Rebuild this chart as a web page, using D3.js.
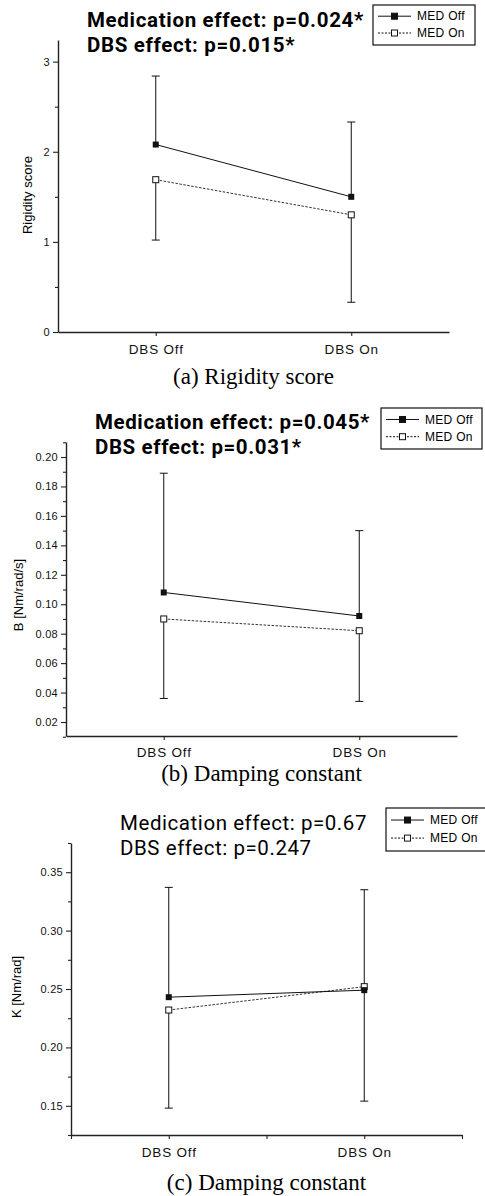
<!DOCTYPE html>
<html>
<head>
<meta charset="utf-8">
<script src="https://cdn.jsdelivr.net/npm/d3@7"></script>
<style>
  html, body { margin: 0; padding: 0; background: #fff; }
  svg { display: block; }
  .tick text { font-family: "Liberation Sans", Arial, sans-serif; fill: #111; }
  .domain, .tick line { stroke: #222; }
</style>
</head>
<body>
<div id="chart"></div>
<script>
// values: mean, and the one-sided SD bar drawn per group
var categories = ["DBS Off", "DBS On"];
var seriesNames = ["MED Off", "MED On"];

var rigidityOff = [2.08, 1.50];
var rigidityOn = [1.69, 1.30];
var rigidityOffSD = [0.76, 0.83];
var rigidityOnSD = [0.67, 0.97];
var rigidityTicks = [0, 1, 2, 3];
var rigidityMinor = [0.5, 1.5, 2.5];

var dampOff = [0.108, 0.092];
var dampOn = [0.090, 0.082];
var dampOffSD = [0.081, 0.058];
var dampOnSD = [0.054, 0.048];
var dampTicks = [0.02, 0.04, 0.06, 0.08, 0.10, 0.12, 0.14, 0.16, 0.18, 0.20];
var dampMinor = [0.01, 0.03, 0.05, 0.07, 0.09, 0.11, 0.13, 0.15, 0.17, 0.19, 0.21];

var stiffOff = [0.243, 0.249];
var stiffOn = [0.232, 0.252];
var stiffOffSD = [0.094, 0.086];
var stiffOnSD = [0.084, 0.098];
var stiffTicks = [0.15, 0.20, 0.25, 0.30, 0.35];
var stiffMinor = [0.125, 0.175, 0.225, 0.275, 0.325, 0.375];

var titles = [
  ["Medication effect: p=0.024*", "DBS effect: p=0.015*"],
  ["Medication effect: p=0.045*", "DBS effect: p=0.031*"],
  ["Medication effect: p=0.67", "DBS effect: p=0.247"]
];
var yLabels = ["Rigidity score", "B [Nm/rad/s]", "K [Nm/rad]"];
var captions = ["(a) Rigidity score", "(b) Damping constant", "(c) Damping constant"];

var svg = d3.select("#chart").append("svg")
  .attr("width", 485)
  .attr("height", 1196);

var panels = [
  { off: rigidityOff, on: rigidityOn, offSD: rigidityOffSD, onSD: rigidityOnSD,
    ticks: rigidityTicks, minor: rigidityMinor, domain: [0, 3.24], fmt: d3.format("d"),
    x0: 58, x1: 449, yTop: 40, yBot: 332,
    titleX: 87, titleY: 27, titleW: 277, bold: true,
    leg: { x: 373, y: 5, w: 102, h: 40 },
    yLabelX: 27, yLabelY: 195, xLabelY: 349, captionY: 384, xMinor: false },
  { off: dampOff, on: dampOn, offSD: dampOffSD, onSD: dampOnSD,
    ticks: dampTicks, minor: dampMinor, domain: [0.0105, 0.2102], fmt: d3.format(".2f"),
    x0: 66, x1: 457, yTop: 442, yBot: 736,
    titleX: 95, titleY: 429, titleW: 275, bold: true,
    leg: { x: 381, y: 408, w: 101, h: 41 },
    yLabelX: 18, yLabelY: 595, xLabelY: 752, captionY: 781, xMinor: false },
  { off: stiffOff, on: stiffOn, offSD: stiffOffSD, onSD: stiffOnSD,
    ticks: stiffTicks, minor: stiffMinor, domain: [0.125, 0.375], fmt: d3.format(".2f"),
    x0: 71, x1: 462, yTop: 843, yBot: 1135,
    titleX: 120, titleY: 830, titleW: 247, bold: false,
    leg: { x: 386, y: 808, w: 102, h: 43 },
    yLabelX: 16, yLabelY: 987, xLabelY: 1152, captionY: 1190, xMinor: true }
];

panels.forEach(function(p, i){ drawPanel(p, i); });

function drawPanel(p, i){
  var g = svg.append("g");
  var x = d3.scalePoint().domain(categories).range([p.x0, p.x1]).padding(0.5);
  var y = d3.scaleLinear().domain(p.domain).range([p.yBot, p.yTop]);

  // axes
  var yAxis = g.append("g").attr("transform", "translate(" + p.x0 + ",0)")
    .call(d3.axisLeft(y).tickValues(p.ticks).tickFormat(p.fmt).tickSize(5).tickSizeOuter(0).tickPadding(3));
  yAxis.selectAll("text").style("font-size", "11px").style("letter-spacing", "0.3px");
  g.append("g").attr("transform", "translate(" + p.x0 + ",0)")
    .call(d3.axisLeft(y).tickValues(p.minor).tickFormat("").tickSize(3))
    .select(".domain").remove();

  var xAxis = g.append("g").attr("transform", "translate(0," + p.yBot + ")")
    .call(d3.axisBottom(x).tickSize(4).tickSizeOuter(0).tickPadding(4));
  xAxis.selectAll("text").style("font-size", "13.5px").style("letter-spacing", "0.8px")
    .attr("y", p.xLabelY - p.yBot).attr("dy", "0.35em");
  if(p.xMinor){
    var xl = d3.scaleLinear().domain([0, 1]).range([p.x0, p.x1]);
    g.append("g").attr("transform", "translate(0," + p.yBot + ")")
      .call(d3.axisBottom(xl).tickValues([0, 0.5, 1]).tickFormat("").tickSize(4))
      .select(".domain").remove();
  }
  g.selectAll(".domain").attr("stroke-width", 1.4);
  g.selectAll(".tick line").attr("stroke-width", 1.1);

  // y label
  g.append("text")
    .attr("transform", "translate(" + p.yLabelX + "," + p.yLabelY + ") rotate(-90)")
    .attr("text-anchor", "middle")
    .attr("dy", "0.35em")
    .style("font-family", "Liberation Sans, Arial, sans-serif")
    .style("font-size", "13px")
    .text(yLabels[i]);

  // error bars: MED Off upward, MED On downward
  var cap = 4;
  var bars = [];
  categories.forEach(function(c, k){
    bars.push({ c: c, a: p.off[k], b: p.off[k] + p.offSD[k] });
    bars.push({ c: c, a: p.on[k], b: p.on[k] - p.onSD[k] });
  });
  var eb = g.append("g").attr("stroke", "#111").attr("stroke-width", 1);
  eb.selectAll(".v").data(bars).enter().append("line")
    .attr("x1", function(d){ return x(d.c); }).attr("x2", function(d){ return x(d.c); })
    .attr("y1", function(d){ return y(d.a); }).attr("y2", function(d){ return y(d.b); });
  eb.selectAll(".h").data(bars).enter().append("line")
    .attr("x1", function(d){ return x(d.c) - cap; }).attr("x2", function(d){ return x(d.c) + cap; })
    .attr("y1", function(d){ return y(d.b); }).attr("y2", function(d){ return y(d.b); });

  // lines
  var line = d3.line().x(function(d, k){ return x(categories[k]); }).y(function(d){ return y(d); });
  g.append("path").datum(p.on).attr("d", line)
    .attr("fill", "none").attr("stroke", "#333").attr("stroke-width", 1).attr("stroke-dasharray", "2.5,1.5");
  g.append("path").datum(p.off).attr("d", line)
    .attr("fill", "none").attr("stroke", "#111").attr("stroke-width", 1);

  // markers
  var s = 6;
  g.selectAll(".mon").data(p.on).enter().append("rect")
    .attr("x", function(d, k){ return x(categories[k]) - s / 2; })
    .attr("y", function(d){ return y(d) - s / 2; })
    .attr("width", s).attr("height", s)
    .attr("fill", "#fff").attr("stroke", "#111").attr("stroke-width", 1);
  g.selectAll(".moff").data(p.off).enter().append("rect")
    .attr("x", function(d, k){ return x(categories[k]) - s / 2; })
    .attr("y", function(d){ return y(d) - s / 2; })
    .attr("width", s).attr("height", s)
    .attr("fill", "#111");

  // title, two separate lines; spacing stretched so line 1 reaches the measured width
  titles[i].forEach(function(txt, k){
    var t = g.append("text")
      .attr("x", p.titleX).attr("y", p.titleY + k * 24.5)
      .style("font-family", "Roboto, Open Sans, sans-serif")
      .style("font-size", "20.5px")
      .style("font-weight", p.bold ? "bold" : "normal")
      .text(txt);
    if(k === 0){
      var w = t.node().getComputedTextLength();
      p.ls = Math.max(0, (p.titleW - w) / txt.length);
    }
    t.style("letter-spacing", p.ls + "px");
  });

  // legend
  var L = p.leg;
  var lg = g.append("g").attr("transform", "translate(" + L.x + "," + L.y + ")");
  lg.append("rect").attr("width", L.w).attr("height", L.h)
    .attr("fill", "#fff").attr("stroke", "#111").attr("stroke-width", 1.2);
  seriesNames.forEach(function(name, k){
    var cy = L.h * (k === 0 ? 0.28 : 0.7);
    lg.append("line").attr("x1", 5).attr("x2", 38).attr("y1", cy).attr("y2", cy)
      .attr("stroke", "#111").attr("stroke-width", 1)
      .attr("stroke-dasharray", k === 0 ? null : "2,1.5");
    lg.append("rect").attr("x", 21.5 - s / 2).attr("y", cy - s / 2).attr("width", s).attr("height", s)
      .attr("fill", k === 0 ? "#111" : "#fff").attr("stroke", "#111").attr("stroke-width", 1);
    lg.append("text").attr("x", 44).attr("y", cy).attr("dy", "0.35em")
      .style("font-family", "Liberation Sans, Arial, sans-serif")
      .style("font-size", "12px")
      .style("letter-spacing", "0.3px")
      .text(name);
  });

  // caption
  g.append("text")
    .attr("x", (p.x0 + p.x1) / 2).attr("y", p.captionY)
    .attr("text-anchor", "middle")
    .style("font-family", "Liberation Serif, Times New Roman, serif")
    .style("font-size", "23px")
    .text(captions[i]);
}
</script>
</body>
</html>
